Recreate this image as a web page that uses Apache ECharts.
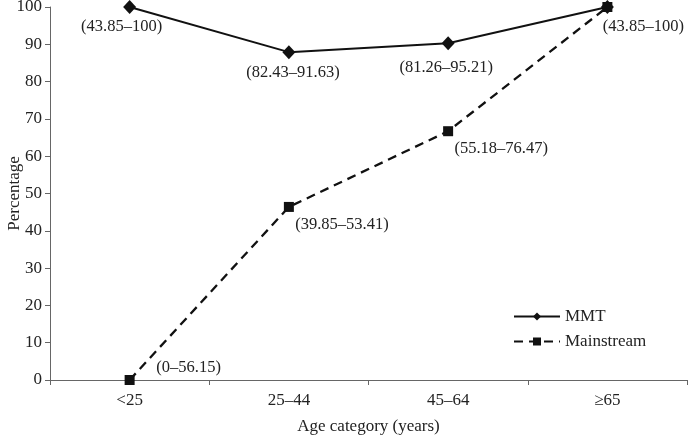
<!DOCTYPE html>
<html><head><meta charset="utf-8">
<script src="https://cdn.jsdelivr.net/npm/echarts@6/dist/echarts.min.js"></script>
<style>html,body{margin:0;padding:0;background:#fff}#c{width:688px;height:435px}</style>
</head><body><div id="c"></div>
<script>
const categories = ['<25', '25–44', '45–64', '≥65'];
const mmtValues = [100, 87.9, 90.3, 100];
const mainValues = [0, 46.4, 66.7, 100];
const mmtLabels = ['(43.85–100)', '(82.43–91.63)', '(81.26–95.21)', '(43.85–100)'];
const mainLabels = ['(0–56.15)', '(39.85–53.41)', '(55.18–76.47)', ''];
const yTicks = [0, 10, 20, 30, 40, 50, 60, 70, 80, 90, 100];

const mmtOffsets = [[-8, 20], [4, 21], [-2, 24], [36, 20]];
const mainOffsets = [[59, -12], [53, 18], [53, 17], [0, 0]];
const FONT = 'Liberation Serif';
const txt = { fontFamily: FONT, fontSize: 16.5, color: '#222' };

function mk(vals, labels, offs) {
  return vals.map((v, i) => ({
    value: v,
    label: { show: !!labels[i], formatter: labels[i], position: 'inside', offset: offs[i], ...txt }
  }));
}

const chart = echarts.init(document.getElementById('c'));
chart.setOption({
  animation: false,
  textStyle: { fontFamily: FONT },
  grid: { left: 50, right: 1, top: 7, bottom: 55, containLabel: false, outerBoundsMode: 'none' },
  legend: {
    left: 508, top: 303, orient: 'vertical', itemWidth: 46, itemHeight: 10, itemGap: 8,
    textStyle: { ...txt, fontSize: 17 },
    data: ['MMT', 'Mainstream']
  },
  xAxis: {
    type: 'category', data: categories, boundaryGap: true,
    name: 'Age category (years)', nameLocation: 'middle', nameGap: 38, nameMoveOverlap: false,
    nameTextStyle: { ...txt, fontSize: 17 },
    axisLine: { lineStyle: { color: '#666', width: 1 } },
    axisTick: { show: true, length: 5, lineStyle: { color: '#666' } },
    axisLabel: { ...txt, fontSize: 17, margin: 12 }
  },
  yAxis: {
    type: 'value', min: 0, max: 100, interval: 10,
    name: 'Percentage', nameLocation: 'middle', nameGap: 27, nameMoveOverlap: false,
    nameTextStyle: { ...txt, fontSize: 17 },
    axisLine: { show: true, lineStyle: { color: '#666', width: 1 } },
    axisTick: { show: true, length: 5, lineStyle: { color: '#666' } },
    splitLine: { show: false },
    axisLabel: { ...txt, fontSize: 17, margin: 8, formatter: v => yTicks.includes(v) ? String(v) : '' }
  },
  series: [
    {
      name: 'MMT', type: 'line', data: mk(mmtValues, mmtLabels, mmtOffsets),
      symbol: 'diamond', symbolSize: [13, 14], showAllSymbol: true,
      lineStyle: { color: '#111', width: 2 }, itemStyle: { color: '#111' }, z: 3
    },
    {
      name: 'Mainstream', type: 'line', data: mk(mainValues, mainLabels, mainOffsets),
      symbol: 'rect', symbolSize: 10, showAllSymbol: true,
      lineStyle: { color: '#111', width: 2.3, type: [9, 6] }, itemStyle: { color: '#111' }, z: 2
    }
  ]
});
</script></body></html>
